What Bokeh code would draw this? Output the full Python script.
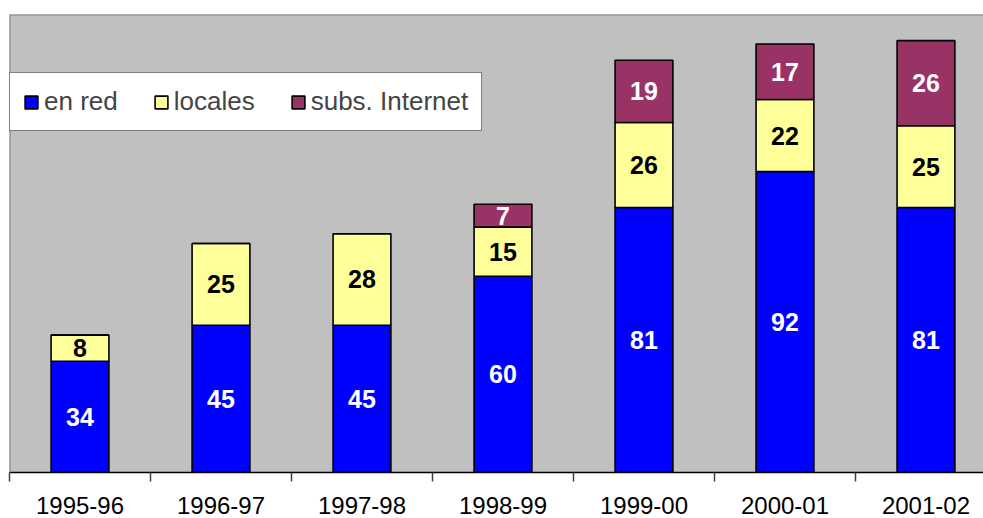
from bokeh.plotting import figure
from bokeh.models import ColumnDataSource, FixedTicker, Legend, LegendItem, Range1d, Span
from bokeh.core.properties import value
from bokeh.embed import file_html
from bokeh.resources import INLINE

years = ["1995-96", "1996-97", "1997-98", "1998-99", "1999-00", "2000-01", "2001-02"]
en_red = [34, 45, 45, 60, 81, 92, 81]
locales = [8, 25, 28, 15, 26, 22, 25]
subs_internet = [0, 0, 0, 7, 19, 17, 26]
series_names = ["en red", "locales", "subs. Internet"]
colors = ["#0000FF", "#FFFF99", "#993366"]
label_colors = ["white", "black", "white"]

FONT = "Liberation Sans"
n = len(years)
centers = [i + 0.5 for i in range(n)]
bounds = [float(i) for i in range(n + 1)]

p = figure(width=983, height=518, output_backend="svg", toolbar_location=None,
           x_range=Range1d(0, 6.908), y_range=Range1d(0, 140),
           min_border_left=9, min_border_right=0, min_border_top=14, min_border_bottom=46)
p.background_fill_color = "#C0C0C0"
p.border_fill_color = "white"
p.outline_line_color = None
p.grid.visible = False
p.yaxis.visible = False
p.add_layout(Span(location=140, dimension="width", line_color="#808080", line_width=2))
p.add_layout(Span(location=0, dimension="height", line_color="#808080", line_width=2))

src = ColumnDataSource(dict(x=centers, en_red=en_red, locales=locales, subs=subs_internet))
renderers = p.vbar_stack(["en_red", "locales", "subs"], x="x", width=0.41, source=src,
                         fill_color=colors, line_color="black", line_width=1.6)

# labels
lx, ly, lt, lc = [], [], [], []
series = [en_red, locales, subs_internet]
for i in range(n):
    base = 0
    for s, vals in enumerate(series):
        v = vals[i]
        if v > 0:
            lx.append(centers[i])
            ly.append(base + v / 2)
            lt.append(str(v))
            lc.append(label_colors[s])
        base += v
lsrc = ColumnDataSource(dict(x=lx, y=ly, t=lt, c=lc))
p.text(x="x", y="y", text="t", source=lsrc, text_color="c", text_align="center",
       text_baseline="middle", text_font=value(FONT), text_font_size="25px",
       text_font_style="bold")

ax = p.xaxis[0]
ax.ticker = FixedTicker(ticks=centers, minor_ticks=bounds)
ax.major_label_overrides = {c: y for c, y in zip(centers, years)}
ax.major_tick_out = 0
ax.major_tick_in = 0
ax.minor_tick_out = 9
ax.minor_tick_in = 0
ax.minor_tick_line_color = "#404040"
ax.minor_tick_line_width = 1.5
ax.axis_line_color = "black"
ax.axis_line_width = 1.5
ax.major_label_standoff = 15
ax.major_label_text_font = FONT
ax.major_label_text_font_size = "24px"
ax.major_label_text_color = "black"

legend = Legend(items=[LegendItem(label=nm, renderers=[r]) for nm, r in zip(series_names, renderers)],
                location=(0, 341), orientation="horizontal",
                label_text_font=FONT, label_text_font_size="26px",
                glyph_width=16, glyph_height=16, label_standoff=5, spacing=35,
                padding=13, margin=0, label_height=25,
                border_line_color="black", border_line_width=1.2,
                background_fill_color="white", background_fill_alpha=1.0)
p.add_layout(legend)

open("out.html", "w").write(file_html(p, INLINE))
